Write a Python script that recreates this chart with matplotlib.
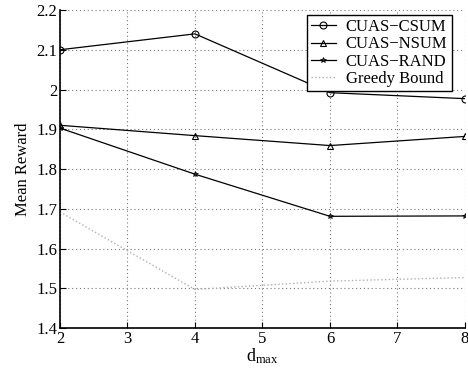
import numpy as np
import matplotlib
matplotlib.use('Agg')
import matplotlib.pyplot as plt

plt.rcParams['font.family'] = ['Liberation Serif', 'DejaVu Serif']
plt.rcParams['mathtext.fontset'] = 'custom'
plt.rcParams['mathtext.rm'] = 'Liberation Serif'
plt.rcParams['mathtext.it'] = 'Liberation Serif:italic'

d_max = [2, 4, 6, 8]
csum = [2.100, 2.140, 1.992, 1.977]
nsum = [1.910, 1.884, 1.859, 1.882]
rand = [1.903, 1.787, 1.681, 1.682]
greedy = [1.692, 1.497, 1.518, 1.527]

fig = plt.figure(figsize=(4.68, 3.75), dpi=100)
ax = fig.add_axes([0.128, 0.1253, 0.8656, 0.848])

ax.plot(d_max, csum, '-', color='black', lw=0.9, marker='o', ms=5,
        mfc='none', mew=0.8, label='CUAS\u2212CSUM')
ax.plot(d_max, nsum, '-', color='black', lw=0.9, marker='^', ms=5,
        mfc='none', mew=0.8, label='CUAS\u2212NSUM')
ax.plot(d_max, rand, '-', color='black', lw=0.9, marker='*', ms=4,
        mfc='#333333', mew=0.5, label='CUAS\u2212RAND')
ax.plot(d_max, greedy, ':', color='#b0b0b0', lw=1.0, label='Greedy Bound')

ax.set_xlim(2, 8)
ax.set_ylim(1.4, 2.2)
ax.set_xticks(range(2, 9))
ax.set_yticks(np.arange(1.4, 2.21, 0.1))
ax.set_yticklabels(['1.4', '1.5', '1.6', '1.7', '1.8', '1.9', '2', '2.1', '2.2'])

ax.set_axisbelow(True)
ax.grid(True, which='major', linestyle=(0, (1, 2.5)), color='#777777', lw=0.8)
ax.spines['top'].set_visible(False)
ax.spines['right'].set_visible(False)
ax.spines['left'].set_linewidth(1.2)
ax.spines['bottom'].set_linewidth(1.2)
ax.tick_params(direction='in', length=4, labelsize=12, pad=2)

ax.set_xlabel(r'$\mathrm{d}_{\mathrm{max}}$', fontsize=13, labelpad=0)
ax.set_ylabel('Mean Reward', fontsize=12, labelpad=4)

leg = ax.legend(loc='upper right', fontsize=12, frameon=True, fancybox=False,
                edgecolor='black', framealpha=1, borderpad=0.25,
                labelspacing=0.08, handlelength=1.5, handletextpad=0.6,
                borderaxespad=0.2, bbox_to_anchor=(0.975, 0.995))
leg.get_frame().set_linewidth(1.0)

fig.savefig('out.png', dpi=100)
